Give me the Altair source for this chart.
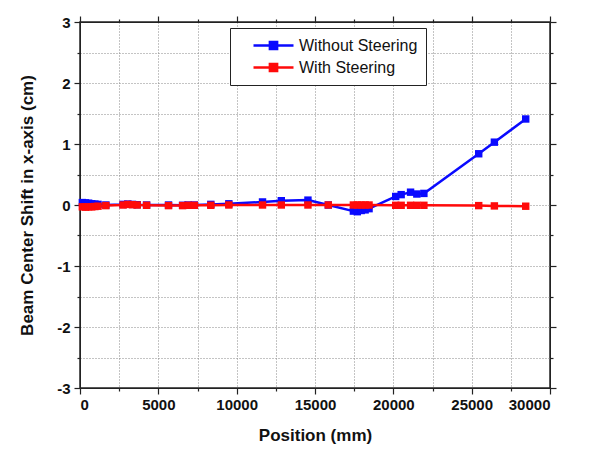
import altair as alt
import pandas as pd

positions = [150, 350, 550, 750, 950, 1150, 1650, 2750, 3050, 3350, 3650, 4250,
             5650, 6550, 6900, 7300, 8350, 9500, 11650, 12850, 14550, 15850,
             17450, 17700, 17950, 18200, 18450, 20150, 20500, 21100, 21500,
             21950, 25450, 26450, 28450]
without_steering = [0.04, 0.035, 0.03, 0.02, 0.015, 0.01, 0.0, 0.01, 0.015, 0.01,
                    0.005, 0.0, 0.0, -0.005, 0.0, 0.0, 0.01, 0.02, 0.05, 0.07,
                    0.08, 0.0, -0.10, -0.11, -0.09, -0.08, -0.06, 0.14, 0.17,
                    0.21, 0.18, 0.19, 0.84, 1.03, 1.41]
with_steering = [-0.03, -0.035, -0.03, -0.03, -0.025, -0.02, -0.01, 0.0, 0.01,
                 0.005, 0.0, -0.005, -0.01, -0.01, -0.005, -0.005, -0.005, 0.0,
                 0.0, 0.0, 0.0, 0.0, 0.0, 0.0, 0.0, 0.0, 0.0, -0.005, -0.005,
                 -0.005, -0.005, -0.005, -0.01, -0.015, -0.02]
series_names = ["Without Steering", "With Steering"]
series_colors = ["#0a0aff", "#ff0a0a"]

df = pd.concat([
    pd.DataFrame({"pos": positions, "shift": without_steering, "series": series_names[0]}),
    pd.DataFrame({"pos": positions, "shift": with_steering, "series": series_names[1]}),
])

FONT = "Liberation Sans"
x_vals = list(range(0, 30001, 2500))
y_vals = [v / 2 for v in range(-6, 7)]

xscale = alt.Scale(domain=[0, 30000], nice=False, zero=False)
yscale = alt.Scale(domain=[-3, 3], nice=False, zero=False)

color = alt.Color("series:N",
                  scale=alt.Scale(domain=series_names, range=series_colors),
                  legend=alt.Legend(
                      title=None, orient="none", legendX=150, legendY=6,
                      symbolType="M-2.5,0L2.5,0M-0.45,-0.45L0.45,-0.45L0.45,0.45L-0.45,0.45Z",
                      symbolSize=256, symbolStrokeWidth=2.5,
                      labelFont=FONT, labelFontSize=16, labelColor="#111",
                      strokeColor="#222", fillColor="white", padding=8,
                      rowPadding=3, labelOffset=16, symbolOffset=26,
                      labelLimit=300, cornerRadius=0))

xaxis = alt.Axis(values=x_vals, labelExpr="datum.value % 5000 === 0 ? datum.label : ''",
                 format="d", grid=True, gridDash=[1, 2], gridColor="#888",
                 gridWidth=1,
                 tickSize={"condition": {"test": "datum.value % 5000 === 0", "value": 6}, "value": 3},
                 tickColor="#222", domainColor="#222", tickWidth=1.2,
                 labelFont=FONT, labelFontSize=15, labelFontWeight="bold",
                 labelColor="#111", labelPadding=3,
                 title="Position (mm)", titleFont=FONT, titleFontSize=17,
                 titleFontWeight="bold", titleColor="#111", titlePadding=15)
yaxis = alt.Axis(values=y_vals, labelExpr="datum.value % 1 === 0 ? ('' + datum.value) : ''",
                 grid=True, gridDash=[1, 2], gridColor="#888", gridWidth=1,
                 tickSize={"condition": {"test": "datum.value % 1 === 0", "value": 6}, "value": 3},
                 tickColor="#222", domainColor="#222", tickWidth=1.2,
                 labelFont=FONT, labelFontSize=15, labelFontWeight="bold",
                 labelColor="#111", labelPadding=4,
                 title="Beam Center Shift in x-axis (cm)", titleFont=FONT,
                 titleFontSize=17, titleFontWeight="bold", titleColor="#111",
                 titlePadding=20)

base = alt.Chart(df)

def series_layer(name):
    d = base.transform_filter(alt.datum.series == name)
    enc = dict(x=alt.X("pos:Q", scale=xscale, axis=xaxis),
               y=alt.Y("shift:Q", scale=yscale, axis=yaxis),
               color=color)
    line = d.mark_line(strokeWidth=2.5).encode(**enc)
    pts = d.mark_point(shape="square", filled=True, size=55, opacity=1).encode(**enc)
    return line + pts

frame_axis_x = alt.Axis(orient="top", values=x_vals, labels=False, grid=False, title=None,
                        tickSize={"condition": {"test": "datum.value % 5000 === 0", "value": 6}, "value": 3},
                        tickColor="#222", domainColor="#222", tickWidth=1.2)
frame_axis_y = alt.Axis(orient="right", values=y_vals, labels=False, grid=False, title=None,
                        tickSize={"condition": {"test": "datum.value % 1 === 0", "value": 6}, "value": 3},
                        tickColor="#222", domainColor="#222", tickWidth=1.2)
frame = base.mark_point(opacity=0).encode(
    x=alt.X("pos:Q", scale=xscale, axis=frame_axis_x),
    y=alt.Y("shift:Q", scale=yscale, axis=frame_axis_y))

data_layers = alt.layer(series_layer(series_names[0]), series_layer(series_names[1]))

chart = alt.layer(data_layers, frame).resolve_axis(
    x="independent", y="independent"
).properties(
    width=470, height=366,
    autosize=alt.AutoSizeParams(type="none"),
    padding={"left": 72, "top": 14, "right": 50, "bottom": 60},
    background="white",
).configure_view(stroke="#222", strokeWidth=1.5)

chart.save("out.html", embed_options={"renderer": "svg", "actions": False})
